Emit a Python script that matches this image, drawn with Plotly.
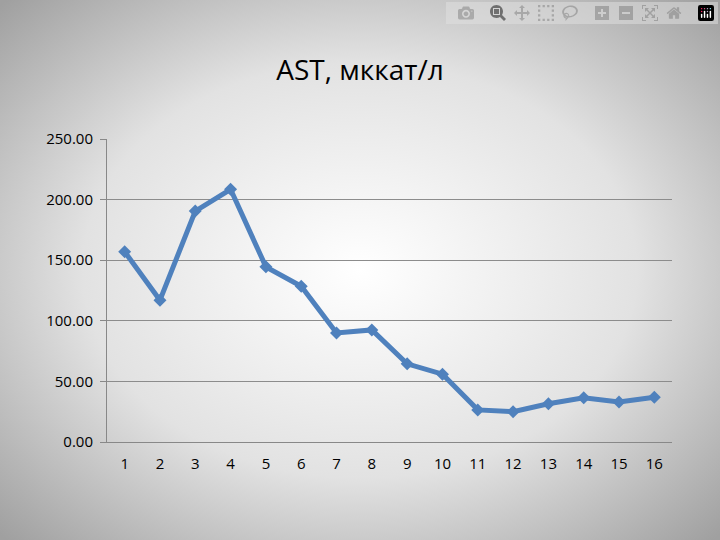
import plotly.graph_objects as go
import urllib.parse

days = list(range(1, 17))
ast = [157, 117, 190.5, 208.5, 144.5, 128.5, 90, 92.5, 64.5, 56, 26.5, 25, 31.5, 36.5, 33, 37]

# radial grey background as an svg image
svg = ('<svg xmlns="http://www.w3.org/2000/svg" width="720" height="540">'
       '<defs><radialGradient id="g" cx="50%" cy="50%" r="70%">'
       '<stop offset="0%" stop-color="#ffffff"/><stop offset="55%" stop-color="#e2e2e2"/>'
       '<stop offset="100%" stop-color="#a0a0a0"/></radialGradient></defs>'
       '<rect width="720" height="540" fill="url(#g)"/></svg>')
bg = "data:image/svg+xml;charset=utf-8," + urllib.parse.quote(svg)

fig = go.Figure(go.Scatter(
    x=days, y=ast, mode="lines+markers",
    line=dict(color="#4f81bd", width=5),
    marker=dict(symbol="diamond", size=10, color="#4f81bd"),
))

fig.update_layout(
    width=720, height=540,
    margin=dict(l=107, r=48, t=139, b=98),
    paper_bgcolor="#e2e2e2", plot_bgcolor="rgba(0,0,0,0)",
    font=dict(family="Open Sans, Liberation Sans", color="#000", size=15),
    title=dict(text="AST, мккат/л", x=0.5, xanchor="center", y=0.87, yanchor="middle",
               font=dict(size=28)),
    showlegend=False,
    images=[dict(source=bg, xref="paper", yref="paper", x=-107/565, y=1 + 139/303,
                 sizex=720/565, sizey=540/303, sizing="stretch", layer="below")],
)
fig.update_xaxes(range=[0.5, 16.5], tickvals=days, showgrid=False, zeroline=False,
                 showline=True, linecolor="#888", ticks="", ticklabelstandoff=8)
fig.update_yaxes(range=[0, 250], dtick=50, tickformat=".2f", showgrid=True,
                 gridcolor="#8c8c8c", gridwidth=1, zeroline=False, showline=True,
                 linecolor="#888", ticks="outside", ticklen=6, tickcolor="#888",
                 ticklabelstandoff=4)

fig.write_html("out.html")

# drop the default page margin so the figure sits at the window edge
with open("out.html", encoding="utf-8") as f:
    html = f.read()
html = html.replace("<body>", '<body style="margin:0">', 1)
with open("out.html", "w", encoding="utf-8") as f:
    f.write(html)
